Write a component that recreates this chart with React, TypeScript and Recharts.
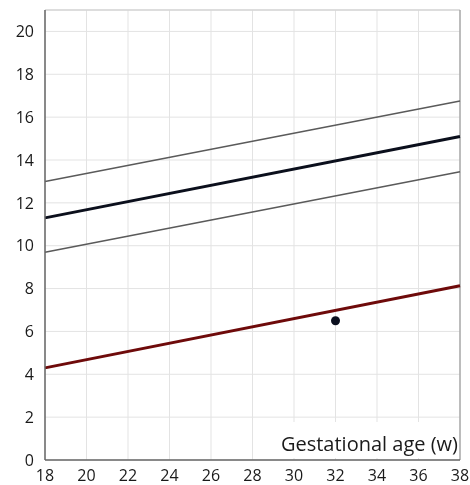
import React from "react";
import {
  ComposedChart,
  Line,
  Scatter,
  XAxis,
  YAxis,
  CartesianGrid,
  ReferenceLine,
  Label,
} from "recharts";

const weeks = [18, 38];
const upperBand = [13.0, 16.75];
const median = [11.3, 15.1];
const lowerBand = [9.7, 13.45];
const patientCurve = [4.3, 8.13];
const pointWeeks = [32];
const pointValues = [6.5];
const xTicks = [18, 20, 22, 24, 26, 28, 30, 32, 34, 36, 38];
const yTicks = [0, 2, 4, 6, 8, 10, 12, 14, 16, 18, 20];
const xLabel = "Gestational age (w)";

const data = weeks.map((w, i) => ({
  week: w,
  upper: upperBand[i],
  median: median[i],
  lower: lowerBand[i],
  patient: patientCurve[i],
}));
const points = pointWeeks.map((w, i) => ({ week: w, value: pointValues[i] }));

const FONT = "'Open Sans', 'Noto Sans', sans-serif";

const AxisLabel = (props: any) => {
  const vb = props.viewBox || {};
  const right = vb.x + vb.width;
  return (
    <g>
      <rect x={right - 190} y={vb.y - 38} width={188} height={36} fill="#ffffff" />
      <text
        x={right - 2}
        y={vb.y - 9}
        textAnchor="end"
        fontFamily={FONT}
        fontSize={20}
        fill="#1a1a1a"
      >
        {xLabel}
      </text>
    </g>
  );
};

const XTick = (props: any) => {
  const { x, y, payload } = props;
  return (
    <text
      x={x}
      y={y + 12}
      textAnchor="middle"
      fontFamily={FONT}
      fontSize={16}
      fill="#1a1a1a"
    >
      {payload.value}
    </text>
  );
};

export default function App() {
  return (
    <div
      style={{
        position: "fixed",
        left: 0,
        top: 0,
        width: 470,
        height: 485,
        background: "#fff",
        overflow: "visible",
      }}
    >
      <style>{`html, body { margin: 0; padding: 0; overflow: hidden; } .recharts-surface, .recharts-wrapper { overflow: visible !important; }`}</style>
      <div style={{ position: "absolute", left: 8, top: 8 }}>
        <ComposedChart
          width={462}
          height={477}
          data={data}
          margin={{ top: 2, right: 10, left: 0, bottom: 0 }}
        >
          <CartesianGrid stroke="#e3e3e3" strokeWidth={1} />
          <XAxis
            dataKey="week"
            type="number"
            domain={[18, 38]}
            ticks={xTicks}
            interval={0}
            height={25}
            tickLine={false}
            tickSize={6}
            tickMargin={3}
            axisLine={{ stroke: "#666", strokeWidth: 1.5 }}
            tick={<XTick />}
            label={<Label content={AxisLabel} />}
          />
          <YAxis
            type="number"
            domain={[0, 21]}
            ticks={yTicks}
            interval={0}
            width={37}
            tickLine={false}
            tickSize={6}
            tickMargin={5}
            axisLine={{ stroke: "#666", strokeWidth: 1.5 }}
            tick={{ fontFamily: FONT, fontSize: 16, fill: "#1a1a1a" }}
          />
          <ReferenceLine y={21} stroke="#d6d6d6" strokeWidth={1.5} />
          <ReferenceLine x={38} stroke="#999" strokeWidth={1.2} />
          <Line
            dataKey="upper"
            type="linear"
            stroke="#5a5a5a"
            strokeWidth={1.5}
            dot={false}
            isAnimationActive={false}
          />
          <Line
            dataKey="lower"
            type="linear"
            stroke="#5a5a5a"
            strokeWidth={1.5}
            dot={false}
            isAnimationActive={false}
          />
          <Line
            dataKey="median"
            type="linear"
            stroke="#0b0f1c"
            strokeWidth={3}
            dot={false}
            isAnimationActive={false}
          />
          <Line
            dataKey="patient"
            type="linear"
            stroke="#6e0a0a"
            strokeWidth={3}
            dot={false}
            isAnimationActive={false}
          />
          <Scatter
            data={points}
            dataKey="value"
            fill="#0a0f1e"
            shape={(p: any) => <circle cx={p.cx} cy={p.cy} r={4.5} fill="#0a0f1e" />}
            isAnimationActive={false}
          />
        </ComposedChart>
      </div>
    </div>
  );
}
